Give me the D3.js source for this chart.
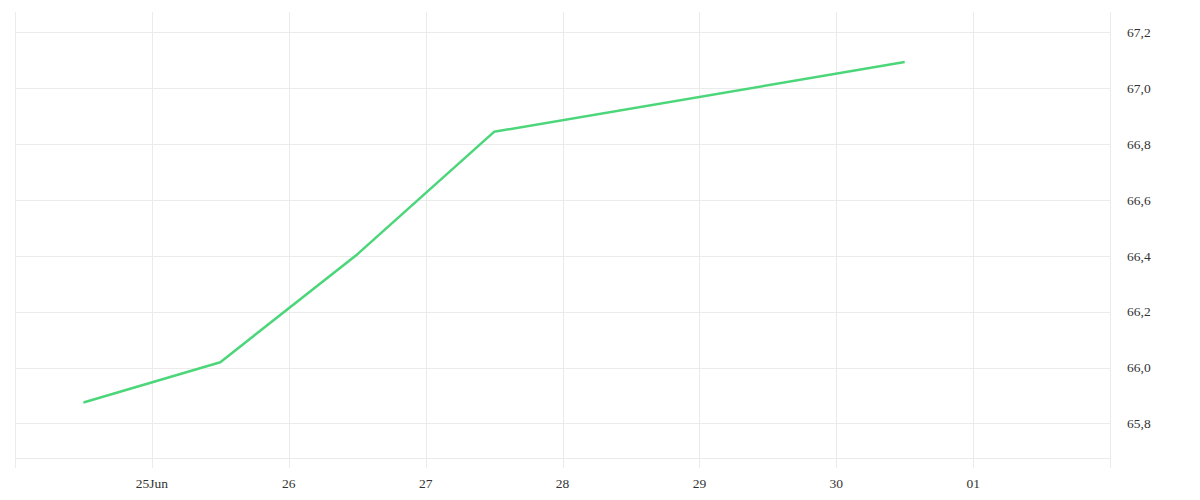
<!DOCTYPE html>
<html>
<head>
<meta charset="utf-8">
<script src="https://cdn.jsdelivr.net/npm/d3@7"></script>
<style>
  html, body { margin: 0; padding: 0; background: #fff; }
</style>
</head>
<body>
<svg id="chart" width="1200" height="500"></svg>
<script>
// Data
const dates = ["2025-06-24T12:00", "2025-06-25T12:00", "2025-06-26T12:00", "2025-06-27T12:00", "2025-06-30T12:00"];
const values = [65.875, 66.019, 66.405, 66.844, 67.094];
const yTicks = [65.8, 66.0, 66.2, 66.4, 66.6, 66.8, 67.0, 67.2];
const xTickDates = ["2025-06-25", "2025-06-26", "2025-06-27", "2025-06-28", "2025-06-29", "2025-06-30", "2025-07-01"];
const xTickLabels = ["25Jun", "26", "27", "28", "29", "30", "01"];

(function () {
const parse = d3.isoParse;
const svg = d3.select("#chart");
const FONT = "'Liberation Serif', 'Times New Roman', serif";

const mLeft = 15, mRight = 1110, mTop = 12, mBottom = 458.3;

const x = d3.scaleTime()
  .domain([parse("2025-06-24"), parse("2025-07-02")])
  .range([mLeft, mRight]);
const y = d3.scaleLinear()
  .domain([65.675, 67.273])
  .range([mBottom, mTop]);

const grid = svg.append("g").attr("stroke", "#ebebeb").attr("stroke-width", 1);

const vLines = [parse("2025-06-24"), ...xTickDates.map(parse), parse("2025-07-02")];
grid.selectAll("line.v").data(vLines).join("line")
  .attr("class", "v")
  .attr("x1", d => Math.round(x(d)) + 0.5).attr("x2", d => Math.round(x(d)) + 0.5)
  .attr("y1", mTop).attr("y2", 468);

grid.selectAll("line.h").data(yTicks).join("line")
  .attr("class", "h")
  .attr("x1", mLeft).attr("x2", mRight)
  .attr("y1", d => Math.round(y(d)) + 0.5).attr("y2", d => Math.round(y(d)) + 0.5);

grid.append("line")
  .attr("x1", mLeft).attr("x2", mRight)
  .attr("y1", Math.round(mBottom) + 0.5).attr("y2", Math.round(mBottom) + 0.5);

const fmt = v => v.toFixed(1).replace(".", ",");
svg.append("g")
  .attr("font-family", FONT).attr("font-size", 13.5).attr("fill", "#333")
  .selectAll("text").data(yTicks).join("text")
  .attr("x", 1127)
  .attr("y", d => y(d))
  .attr("dy", "0.35em")
  .attr("text-anchor", "start")
  .text(fmt);

svg.append("g")
  .attr("font-family", FONT).attr("font-size", 13.5).attr("fill", "#333")
  .selectAll("text").data(xTickDates).join("text")
  .attr("x", d => x(parse(d)))
  .attr("y", 483)
  .attr("dy", "0.35em")
  .attr("text-anchor", "middle")
  .text((d, i) => xTickLabels[i]);

const data = dates.map((d, i) => ({ date: parse(d), value: values[i] }));
svg.append("path")
  .datum(data)
  .attr("fill", "none")
  .attr("stroke", "#4cd67a")
  .attr("stroke-width", 2.5)
  .attr("stroke-linejoin", "round")
  .attr("d", d3.line().x(d => x(d.date)).y(d => y(d.value)));
})();
</script>
</body>
</html>
